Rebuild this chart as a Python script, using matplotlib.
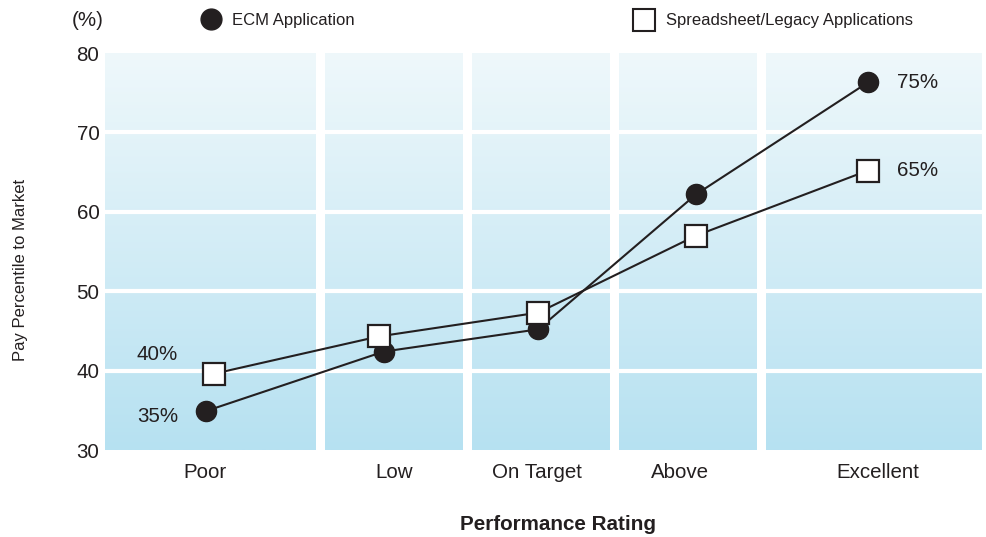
import numpy as np
import matplotlib
matplotlib.use("Agg")
import matplotlib.pyplot as plt
from matplotlib.lines import Line2D

plt.rcParams['font.family'] = ['Liberation Sans', 'DejaVu Sans']

# data
categories = ['Poor', 'Low', 'On Target', 'Above', 'Excellent']
ecm = [34.9, 42.4, 45.2, 62.2, 76.3]
legacy = [39.6, 44.3, 47.3, 57.0, 65.2]
series_names = ['ECM Application', 'Spreadsheet/Legacy Applications']
ecm_labels = {0: '35%', 4: '75%'}
legacy_labels = {0: '40%', 4: '65%'}

# layout (x axis runs 0..10 across the plot panel)
x_ecm = [1.15, 3.18, 4.94, 6.74, 8.70]
x_legacy = [1.24, 3.12, 4.94, 6.74, 8.70]
x_ticks = [1.14, 3.30, 4.93, 6.56, 8.81]
col_gaps = [2.41, 4.08, 5.76, 7.44]
gap_w = 0.10

ink = '#231f20'

fig = plt.figure(figsize=(9.87, 5.37), dpi=100)
ax = fig.add_axes([0.1064, 0.162, 0.8885, 0.7393])
ax.set_xlim(0, 10)
ax.set_ylim(30, 80)

# background gradient
top = np.array([239, 248, 251]) / 255
bot = np.array([182, 225, 241]) / 255
t = np.linspace(0, 1, 256)[:, None]
grad = (top * (1 - t) + bot * t)[:, None, :]
ax.imshow(grad, extent=[0, 10, 30, 80], aspect='auto', origin='upper', zorder=0)

for g in col_gaps:
    ax.axvspan(g, g + gap_w, color='white', lw=0, zorder=1)
for y in [40, 50, 60, 70]:
    ax.axhline(y, color='white', lw=3, zorder=1)

ax.plot(x_ecm, ecm, color=ink, lw=1.5, marker='o', ms=14.5,
        mfc=ink, mec=ink, zorder=3)
ax.plot(x_legacy, legacy, color=ink, lw=1.5, marker='s', ms=15.5,
        mfc='white', mec=ink, mew=1.6, zorder=4)

for i, s in ecm_labels.items():
    off = (36, 0) if i == 4 else (-35, -4)
    ax.annotate(s, (x_ecm[i], ecm[i]), xytext=off, textcoords='offset points',
                ha='center', va='center', fontsize=14.8, color=ink)
for i, s in legacy_labels.items():
    off = (36, 0) if i == 4 else (-41, 14)
    ax.annotate(s, (x_legacy[i], legacy[i]), xytext=off, textcoords='offset points',
                ha='center', va='center', fontsize=14.8, color=ink)

for sp in ax.spines.values():
    sp.set_visible(False)
ax.set_xticks(x_ticks)
ax.set_xticklabels(categories)
ax.set_yticks([30, 40, 50, 60, 70, 80])
ax.tick_params(length=0, labelsize=14.8, colors=ink)
ax.tick_params(axis='x', pad=9)
ax.tick_params(axis='y', pad=4)

fig.text(558 / 987, 1 - 525 / 537, 'Performance Rating', ha='center', va='center',
         fontsize=14.9, fontweight='bold', color=ink)
fig.text(21 / 987, 1 - 270 / 537, 'Pay Percentile to Market', rotation=90,
         ha='center', va='center', fontsize=12, color=ink)
fig.text(88 / 987, 1 - 20 / 537, '(%)', ha='center', va='center',
         fontsize=14.8, color=ink)

# legend
fig.add_artist(Line2D([211 / 987], [1 - 19 / 537], marker='o', ms=15,
                      mfc=ink, mec=ink, transform=fig.transFigure))
fig.text(232 / 987, 1 - 20 / 537, series_names[0], ha='left', va='center',
         fontsize=12, color=ink)
fig.add_artist(Line2D([644 / 987], [1 - 20 / 537], marker='s', ms=15.5,
                      mfc='white', mec=ink, mew=1.5, transform=fig.transFigure))
fig.text(666 / 987, 1 - 20 / 537, series_names[1], ha='left', va='center',
         fontsize=12, color=ink)

fig.savefig('out.png', dpi=100)
